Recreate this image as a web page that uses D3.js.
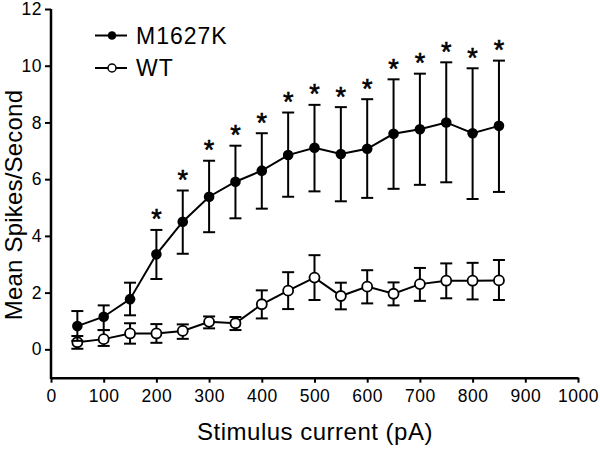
<!DOCTYPE html>
<html>
<head>
<meta charset="utf-8">
<script src="https://cdn.jsdelivr.net/npm/d3@7"></script>
<style>
body{margin:0;background:#fff;}
text{font-family:"Liberation Sans",Arial,sans-serif;fill:#000;}
</style>
</head>
<body>
<svg width="600" height="449"></svg>
<script>
// stimulus current (pA)
var currents=[50,100,150,200,250,300,350,400,450,500,550,600,650,700,750,800,850];
// M1627K mean, upper and lower error limits
var mutMean=[0.82,1.15,1.77,3.35,4.5,5.38,5.91,6.3,6.85,7.11,6.89,7.07,7.6,7.76,8.0,7.62,7.88];
var mutHi=[1.35,1.55,2.35,4.21,5.6,6.65,7.18,7.62,8.35,8.62,8.54,8.82,9.52,9.72,10.12,9.91,10.18];
var mutLo=[0.3,0.68,1.2,2.48,3.37,4.13,4.62,4.96,5.38,5.57,5.22,5.34,5.66,5.8,5.89,5.3,5.55];
// WT mean, upper and lower error limits
var wtMean=[0.25,0.36,0.56,0.56,0.65,0.97,0.92,1.59,2.07,2.53,1.88,2.21,1.96,2.3,2.42,2.42,2.43];
var wtHi=[0.47,0.68,0.92,0.89,0.88,1.16,1.14,2.08,2.72,3.32,2.35,2.79,2.36,2.87,3.03,3.05,3.15];
var wtLo=[0.02,0.12,0.2,0.23,0.37,0.74,0.68,1.09,1.42,1.74,1.41,1.62,1.55,1.71,1.8,1.76,1.74];
// currents marked significant
var starred=[200,250,300,350,400,450,500,550,600,650,700,750,800,850];
var xTicks=[0,100,200,300,400,500,600,700,800,900,1000];
var yTicks=[0,2,4,6,8,10,12];

var svg=d3.select("svg");
var x=d3.scaleLinear().domain([0,1000]).range([51,578]);
var y=d3.scaleLinear().domain([-1,12]).range([377.7,9]);

// axes
var xAxis=svg.append("g").attr("transform","translate(0,"+y(-1)+")")
    .call(d3.axisBottom(x).tickValues(xTicks).tickFormat(d3.format("d")).tickSize(5).tickPadding(7).tickSizeOuter(0));
var yAxis=svg.append("g").attr("transform","translate("+x(0)+",0)")
    .call(d3.axisLeft(y).tickValues(yTicks).tickSize(6).tickPadding(3).tickSizeOuter(0));
[xAxis,yAxis].forEach(function(a){
    a.select(".domain").attr("stroke","#000").attr("stroke-width",2.5);
    a.selectAll(".tick line").attr("stroke","#000").attr("stroke-width",2);
    a.selectAll(".tick text").style("font-size","17.5px").style("letter-spacing","0.5px").attr("fill","#000");
});
// y axis line should reach the x axis
yAxis.select(".domain").attr("d","M0,"+y(12)+"V"+(y(-1)+1.2));

svg.append("text").attr("x",315).attr("y",440).attr("text-anchor","middle")
    .style("font-size","24px").style("letter-spacing","0.5px").text("Stimulus current (pA)");
svg.append("text").attr("transform","translate(21.5,205) rotate(-90)").attr("text-anchor","middle")
    .style("font-size","24px").style("letter-spacing","0.2px").text("Mean Spikes/Second");

function drawSeries(mean,hi,lo,filled){
    var g=svg.append("g");
    var cap=6;
    currents.forEach(function(c,i){
        g.append("line").attr("x1",x(c)).attr("x2",x(c)).attr("y1",y(hi[i])).attr("y2",y(lo[i]))
            .attr("stroke","#000").attr("stroke-width",2);
        [hi[i],lo[i]].forEach(function(v){
            g.append("line").attr("x1",x(c)-cap).attr("x2",x(c)+cap).attr("y1",y(v)).attr("y2",y(v))
                .attr("stroke","#000").attr("stroke-width",2);
        });
    });
    var line=d3.line().x(function(d,i){return x(currents[i]);}).y(function(d){return y(d);});
    g.append("path").datum(mean).attr("d",line).attr("fill","none").attr("stroke","#000").attr("stroke-width",2);
    g.selectAll("circle").data(mean).enter().append("circle")
        .attr("cx",function(d,i){return x(currents[i]);}).attr("cy",function(d){return y(d);})
        .attr("r",filled?5.3:5).attr("fill",filled?"#000":"#fff").attr("stroke","#000").attr("stroke-width",filled?0:1.8);
}
drawSeries(wtMean,wtHi,wtLo,false);
drawSeries(mutMean,mutHi,mutLo,true);

// significance stars
starred.forEach(function(c){
    var i=currents.indexOf(c);
    svg.append("text").attr("x",x(c)).attr("y",y(mutHi[i])-1.5).attr("text-anchor","middle")
        .style("font-size","27px").attr("stroke","#000").attr("stroke-width",0.6).text("*");
});

// legend
var legend=[{name:"M1627K",filled:true,y:35.5},{name:"WT",filled:false,y:68}];
legend.forEach(function(l){
    svg.append("line").attr("x1",95).attr("x2",127).attr("y1",l.y).attr("y2",l.y)
        .attr("stroke","#000").attr("stroke-width",2);
    svg.append("circle").attr("cx",112).attr("cy",l.y).attr("r",l.filled?4.3:4)
        .attr("fill",l.filled?"#000":"#fff").attr("stroke","#000").attr("stroke-width",l.filled?0:1.5);
    svg.append("text").attr("x",136).attr("y",l.y+8).style("font-size","23px").style("letter-spacing","1px").text(l.name);
});
</script>
</body>
</html>
